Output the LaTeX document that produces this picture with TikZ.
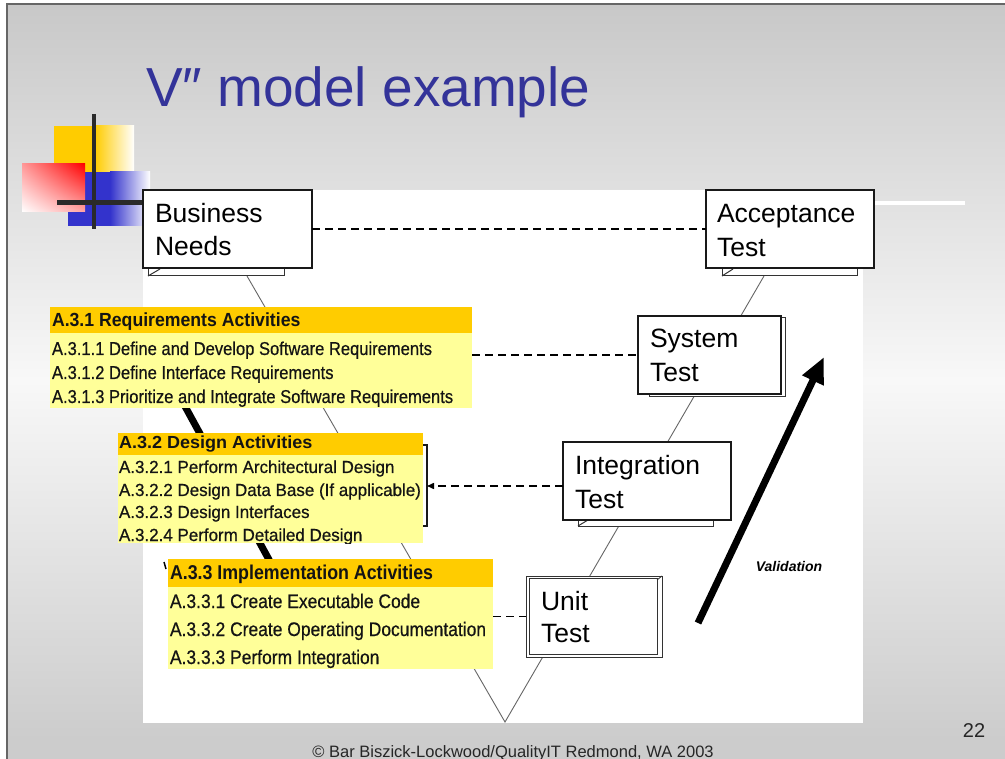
\documentclass[tikz,border=0pt]{standalone}
\usepackage{fontspec}
\setmainfont{Liberation Sans}
\newfontfamily\yfont[FakeBold=0.6]{Liberation Sans}
\usepackage{graphicx}
\usetikzlibrary{arrows.meta,shadings}
\definecolor{bgdark}{HTML}{C8C8C8}
\definecolor{bglight}{HTML}{F8F8F8}
\definecolor{bgbottom}{HTML}{CCCCCC}
\definecolor{titleblue}{HTML}{333399}
\definecolor{logoyellow}{HTML}{FFCC00}
\definecolor{logoblue}{HTML}{3333CC}
\definecolor{logored}{HTML}{FF0000}
\definecolor{headyellow}{HTML}{FFCC00}
\definecolor{bodyyellow}{HTML}{FFFF99}
\definecolor{vlinecol}{HTML}{666666}
\definecolor{crossgray}{HTML}{2A2A2A}
\newcommand{\sx}[2]{\scalebox{#1}[1]{#2}}
\begin{document}
\begin{tikzpicture}[x=1pt,y=-1pt,
  every node/.style={inner sep=0pt, outer sep=0pt},
  frontbox/.style={draw=black!90, line width=1.3pt, fill=white, anchor=north west},
  backbox/.style={draw=black!80, line width=1pt, fill=white, anchor=north west},
  boxlabel/.style={anchor=base west, font=\fontsize{26.5}{32}\selectfont},
  vlink/.style={draw=vlinecol, line width=0.9pt},
  dashlink/.style={draw=black, line width=1.5pt, dash pattern=on 8pt off 5pt},
  yhead/.style={fill=headyellow, anchor=north west},
  ybody/.style={fill=bodyyellow, anchor=north west},
  ytext/.style={anchor=base west, text=black!92},
]
\useasboundingbox (0,0) rectangle (1005,759);
% background
\fill[white] (0,0) rectangle (1005,759);
\shade[top color=bgdark, bottom color=bglight] (7,4) rectangle (1005,380);
\shade[top color=bglight, bottom color=bgbottom] (7,380) rectangle (1005,740);
\fill[bgbottom] (7,740) rectangle (1005,759);
\draw[black!60, line width=1.2pt] (7,759) -- (7,4) -- (1005,4);
% logo
\fill[logoyellow] (54,126) rectangle (95,206);
\shade[left color=logoyellow, right color=white] (95,126) rectangle (134,206);
\fill[logoblue] (68,172) rectangle (110,226);
\shade[left color=logoblue, right color=white] (110,172) rectangle (150,226);
\shade[upper left=red!40, upper right=logored, lower left=white, lower right=red!35] (22,164) rectangle (85,212);
\draw[crossgray, line width=4pt] (94,114) -- (94,229);
\draw[crossgray, line width=5pt] (57,203) -- (150,203);
\draw[white, line width=4pt] (875,203) -- (965,203);
% title
\node[anchor=base west, text=titleblue, font=\fontsize{55}{60}\selectfont] (title) at (146,107) {V″ model example};
% white panel
\fill[white] (143,190) rectangle (863,723);
% V lines
\coordinate (vtopL) at (247,276);
\coordinate (vbot) at (505,722);
\coordinate (vtopR) at (764,276);
\draw[vlink] (vtopL) -- (vbot) -- (vtopR);
% hidden thick verification line
\coordinate (vl1) at (135,315);
\coordinate (vl2) at (313,640);
\draw[black, line width=7pt] (vl1) -- (vl2);
% hidden design box
\node[frontbox, minimum width=150pt, minimum height=81pt] (des) at (277,445) {};
% validation arrow
\coordinate (va1) at (698,623);
\coordinate (va2) at (824,357);
\draw[black, line width=7pt, -{Triangle[length=26pt,width=22pt]}] (va1) -- (va2);
\node[font=\bfseries\itshape\fontsize{14}{16}\selectfont] (val) at (789,566) {Validation};
% Business Needs
\node[backbox, minimum width=136pt, minimum height=76pt] (bnb) at (148,200) {};
\draw[black!80, line width=1pt] (bnb.south west) -- ++(12,-7);
\node[frontbox, minimum width=169pt, minimum height=78pt] (bn) at (143,190) {};
\node[boxlabel] (bn1) at (155,223) {Business};
\node[boxlabel] (bn2) at (155,256) {Needs};
% Acceptance Test
\node[backbox, minimum width=135pt, minimum height=76pt] (atb) at (722,200) {};
\draw[black!80, line width=1pt] (atb.south west) -- ++(11,-7);
\node[frontbox, minimum width=168pt, minimum height=78pt] (at) at (706,190) {};
\node[boxlabel] (at1) at (717,223) {Acceptance};
\node[boxlabel] (at2) at (717,257) {Test};
% System Test
\node[backbox, minimum width=136pt, minimum height=79pt] (stb) at (649,318) {};
\node[frontbox, minimum width=143pt, minimum height=78pt] (st) at (638,316) {};
\node[boxlabel] (st1) at (650,348) {System};
\node[boxlabel] (st2) at (650,382) {Test};
% Integration Test
\node[backbox, minimum width=135pt, minimum height=76pt] (itb) at (578,450) {};
\draw[black!80, line width=1pt] (itb.south west) -- ++(10,-6);
\node[frontbox, minimum width=168pt, minimum height=78pt] (it) at (563,442) {};
\node[boxlabel] (it1) at (575,475) {Integration};
\node[boxlabel] (it2) at (575,508) {Test};
% Unit Test
\node[backbox, line width=1pt, minimum width=136pt, minimum height=81pt] (ut) at (526,576) {};
\node[backbox, line width=0.9pt, minimum width=128pt, minimum height=76pt] (utf) at (529,578) {};
\draw[black!80, line width=0.8pt] (utf.north east) ++(0,2) -- ++(5,-4);
\node[boxlabel] (ut1) at (541,610) {Unit};
\node[boxlabel] (ut2) at (541,642) {Test};
% yellow activity boxes
\node[yhead, minimum width=422pt, minimum height=26pt] (a31h) at (50,307) {};
\node[ybody, minimum width=422pt, minimum height=75pt] (a31b) at (50,333) {};
\node[ytext, font=\bfseries\fontsize{19}{22}\selectfont] (a31t) at (52,327) {\sx{0.93}{A.3.1 Requirements Activities}};
\node[ytext, font=\yfont\fontsize{18.6}{20}\selectfont] (a311) at (52,355) {\sx{0.89}{A.3.1.1 Define and Develop Software Requirements}};
\node[ytext, font=\yfont\fontsize{18.6}{20}\selectfont] (a312) at (52,379) {\sx{0.89}{A.3.1.2 Define Interface Requirements}};
\node[ytext, font=\yfont\fontsize{18.6}{20}\selectfont] (a313) at (52,403) {\sx{0.89}{A.3.1.3 Prioritize and Integrate Software Requirements}};
\node[yhead, minimum width=305pt, minimum height=22pt] (a32h) at (118,433) {};
\node[ybody, minimum width=305pt, minimum height=88pt] (a32b) at (118,455) {};
\begin{scope}
\clip (118,433) rectangle (423,543);
\node[ytext, font=\bfseries\fontsize{17.5}{20}\selectfont] (a32t) at (119,449) {\sx{1.03}{A.3.2 Design Activities}};
\node[ytext, font=\yfont\fontsize{17.5}{20}\selectfont] (a321) at (119,473) {\sx{0.97}{A.3.2.1 Perform Architectural Design}};
\node[ytext, font=\yfont\fontsize{17.5}{20}\selectfont] (a322) at (119,496) {\sx{0.97}{A.3.2.2 Design Data Base (If applicable)}};
\node[ytext, font=\yfont\fontsize{17.5}{20}\selectfont] (a323) at (119,518) {\sx{0.97}{A.3.2.3 Design Interfaces}};
\node[ytext, font=\yfont\fontsize{17.5}{20}\selectfont] (a324) at (119,541) {\sx{0.97}{A.3.2.4 Perform Detailed Design}};
\end{scope}
\draw[black, line width=1.5pt] (164,562) -- (166,569);
\node[yhead, minimum width=325pt, minimum height=28pt] (a33h) at (168,559) {};
\node[ybody, minimum width=325pt, minimum height=82pt] (a33b) at (168,587) {};
\node[ytext, font=\bfseries\fontsize{20}{22}\selectfont] (a33t) at (170,579) {\sx{0.89}{A.3.3 Implementation Activities}};
\node[ytext, font=\yfont\fontsize{19.6}{22}\selectfont] (a331) at (170,608) {\sx{0.89}{A.3.3.1 Create Executable Code}};
\node[ytext, font=\yfont\fontsize{19.6}{22}\selectfont] (a332) at (170,636) {\sx{0.89}{A.3.3.2 Create Operating Documentation}};
\node[ytext, font=\yfont\fontsize{19.6}{22}\selectfont] (a333) at (170,664) {\sx{0.89}{A.3.3.3 Perform Integration}};
% dashed correspondences
\coordinate (itin) at ([yshift=-5pt]it.west);
\draw[dashlink] (bn.east) -- (at.west);
\draw[dashlink] (a31b.east |- st.west) -- (st.west);
\draw[dashlink, -{Triangle[length=7pt,width=6pt]}] (itin) -- (des.east |- itin);
\draw[dashlink] (a33b.east |- ut.west) -- (ut.west);
% footer
\node[anchor=base, text=black!85, font=\fontsize{16.5}{18}\selectfont] (foot) at (513,757) {© Bar Biszick-Lockwood/QualityIT Redmond, WA 2003};
\node[anchor=base, text=black!85, font=\fontsize{20}{22}\selectfont] (pg) at (974,737) {22};
\end{tikzpicture}
\end{document}
